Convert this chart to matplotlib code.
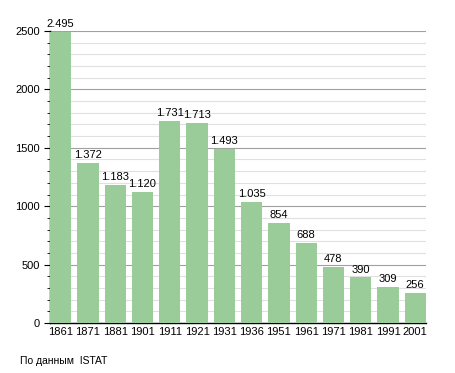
import matplotlib.pyplot as plt
import numpy as np

plt.rcParams['font.family'] = ['Liberation Sans', 'DejaVu Sans']

years = ['1861', '1871', '1881', '1901', '1911', '1921', '1931',
         '1936', '1951', '1961', '1971', '1981', '1991', '2001']
population = [2495, 1372, 1183, 1120, 1731, 1713, 1493,
              1035, 854, 688, 478, 390, 309, 256]
labels = ['2.495', '1.372', '1.183', '1.120', '1.731', '1.713', '1.493',
          '1.035', '854', '688', '478', '390', '309', '256']

fig = plt.figure(figsize=(4.55, 3.73), dpi=100)
ax = fig.add_axes([0.110, 0.134, 0.826, 0.783])

x = np.arange(len(years))
w = 0.78
ax.bar(x, population, width=w, color='#99cc99', zorder=3)
for xi, v, t in zip(x, population, labels):
    ax.text(xi, v + 25, t, ha='center', va='bottom', fontsize=8, zorder=4)

ax.set_xlim(-w / 2, len(years) - 1 + w / 2)
ax.set_ylim(0, 2500)
ax.set_yticks(range(0, 2501, 500))
ax.set_yticks(range(0, 2501, 100), minor=True)
ax.grid(axis='y', which='major', color='#a0a0a0', linewidth=0.8, zorder=0)
ax.grid(axis='y', which='minor', color='#e0e0e0', linewidth=0.8, zorder=0)
ax.set_xticks(x)
ax.set_xticklabels(years)
ax.tick_params(axis='x', length=0, labelsize=8, pad=3)
ax.tick_params(axis='y', which='major', length=4, labelsize=8, direction='out')
ax.tick_params(axis='y', which='minor', length=2, direction='out')
for s in ['top', 'right']:
    ax.spines[s].set_visible(False)
ax.spines['left'].set_linewidth(1.0)
ax.spines['bottom'].set_linewidth(1.0)

fig.text(20 / 455, 1 - 361 / 373, 'По данным  ISTAT', fontsize=7.5, va='center')

fig.savefig('out.png', dpi=100)
